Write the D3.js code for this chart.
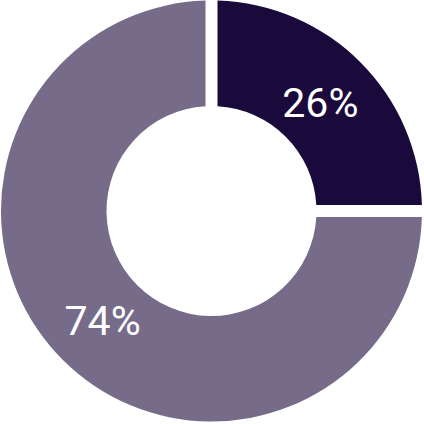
<!DOCTYPE html>
<html>
<head>
<meta charset="utf-8">
<script src="https://cdn.jsdelivr.net/npm/d3@7"></script>
<style>
  html, body { margin: 0; padding: 0; background: #fff; }
  svg { display: block; }
  .label { font-family: Roboto, "Open Sans", sans-serif; font-size: 41px; fill: #fff; }
</style>
</head>
<body>
<svg width="424" height="424"></svg>
<script>
// slice shares as drawn (each slice spans a quarter / three quarters of the ring)
var categories = ["A", "B"];
var shares = [25, 75];
var labels = ["26%", "74%"];
var colors = ["#1a0a3c", "#766c8a"];

var svg = d3.select("svg"),
    width = +svg.attr("width"),
    height = +svg.attr("height");

var cx = 211.5, cy = 211,
    outer = 210.5, inner = 105,
    gap = 12;

var data = categories.map(function(c, i) {
  return { name: c, value: shares[i], label: labels[i], color: colors[i] };
});

// no padding in the layout so the gaps sit exactly on the slice boundaries
var pie = d3.pie()
    .sort(null)
    .value(function(d) { return d.value; });

var arc = d3.arc()
    .innerRadius(inner)
    .outerRadius(outer)
    .padAngle(gap / outer)
    .padRadius(outer);

var labelArc = d3.arc()
    .innerRadius(154)
    .outerRadius(154);

var g = svg.append("g")
    .attr("transform", "translate(" + cx + "," + cy + ")");

var slices = g.selectAll(".slice")
    .data(pie(data))
    .enter().append("g")
    .attr("class", "slice");

slices.append("path")
    .attr("d", arc)
    .style("fill", function(d) { return d.data.color; });

slices.append("text")
    .attr("class", "label")
    .attr("transform", function(d) { return "translate(" + labelArc.centroid(d) + ")"; })
    .attr("text-anchor", "middle")
    .attr("dy", "0.36em")
    .text(function(d) { return d.data.label; });
</script>
</body>
</html>
